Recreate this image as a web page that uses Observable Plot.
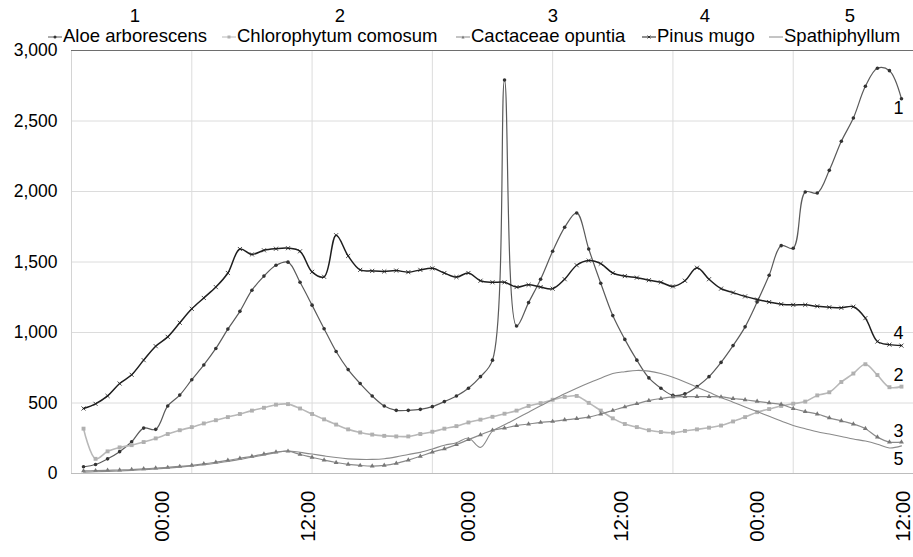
<!DOCTYPE html>
<html><head><meta charset="utf-8">
<script src="https://cdn.jsdelivr.net/npm/d3@7"></script>
<script src="https://cdn.jsdelivr.net/npm/@observablehq/plot@0.6"></script>
<style>
body{margin:0;background:#fff;font-family:"Liberation Sans",Arial,sans-serif;color:#000}
#wrap{position:relative;width:913px;height:557px;overflow:hidden}
#legend{position:relative;height:48px;font-size:18.5px}
.item{position:absolute;top:27px;white-space:nowrap;line-height:18px}
.item svg{vertical-align:middle;margin-right:1px}
.num{position:absolute;top:7px;font-size:18.5px;line-height:18px;transform:translateX(-50%)}
</style></head><body>
<div id="wrap"><div id="legend"></div><div id="chart"></div></div>
<script>
const seriesNames = ["Aloe arborescens","Chlorophytum comosum","Cactaceae opuntia","Pinus mugo","Spathiphyllum"];
const seriesNums = ["1","2","3","4","5"];
const aloe = [48,64,104,155,225,322,313,479,556,665,770,887,1024,1150,1300,1400,1477,1499,1356,1194,1027,865,737,638,550,479,448,448,455,474,510,550,605,687,804,2791,1046,1212,1378,1576,1746,1848,1592,1349,1120,951,804,678,605,554,565,616,687,788,907,1040,1216,1406,1616,1598,1996,1989,2150,2356,2521,2746,2874,2857,2658];
const chloro = [318,104,157,185,201,223,249,280,307,329,355,378,400,422,446,466,488,492,461,422,384,347,313,291,276,267,263,263,280,296,318,336,362,382,402,424,446,479,499,523,543,550,501,446,391,351,329,307,294,289,302,313,325,340,369,400,435,457,479,495,510,554,576,649,709,775,698,612,616];
const cactus = [18,20,22,25,28,33,38,43,50,58,68,80,93,108,122,138,152,158,135,115,95,78,65,57,53,58,72,95,122,152,175,205,240,274,307,322,340,351,362,369,380,389,400,422,447,472,495,517,532,543,545,545,545,543,532,523,512,501,490,461,439,422,395,373,351,318,258,223,223];
const pinus = [461,494,550,638,700,804,903,969,1069,1168,1245,1322,1422,1592,1554,1583,1594,1598,1576,1430,1395,1690,1543,1444,1437,1433,1439,1428,1444,1455,1422,1393,1422,1367,1356,1356,1322,1338,1322,1311,1378,1477,1510,1488,1422,1400,1389,1371,1356,1327,1367,1459,1378,1311,1283,1256,1234,1216,1201,1196,1196,1186,1179,1175,1183,1102,936,914,907];
const spath = [10,12,15,18,22,27,32,38,45,53,62,73,85,100,115,132,148,160,150,138,125,113,104,100,100,105,118,135,150,174,201,218,252,185,300,345,390,435,480,523,565,605,642,676,709,722,731,726,709,682,649,612,576,539,506,472,439,406,373,340,318,296,280,263,245,230,208,181,196];
const values = [aloe, chloro, cactus, pinus, spath];
const yTicks = [0,500,1000,1500,2000,2500,3000];
const tickIdx = [6.6,18.7,32,44.7,56,68.2];
const tickLabels = ["00:00","12:00","00:00","12:00","00:00","12:00"];
const vGrid = [9,19,29,39,49,59];

const styles = [
  {stroke:"#5a5a5a", width:1.2, symbol:"circle", r:1.8, fill:"#333"},
  {stroke:"#b8b8b8", width:1.6, symbol:"square", r:2.2, fill:"#b0b0b0"},
  {stroke:"#8a8a8a", width:1.2, symbol:"triangle", r:1.8, fill:"#777"},
  {stroke:"#1e1e1e", width:1.5, symbol:"times", r:2, fill:null},
  {stroke:"#8a8a8a", width:1.1, symbol:null}
];
const endDy = [10,-11,-11,-12,13];

// legend
const legendLeft = [48,222,456,642,769];
const numLeft = [135,340,553,705,850];
const legend = document.getElementById("legend");
seriesNames.forEach((name,s)=>{
  const st = styles[s];
  const it = document.createElement("div");
  it.className = "item"; it.style.left = legendLeft[s]+"px";
  let mk = "";
  if (st.symbol==="circle") mk = `<circle cx="7" cy="6" r="1.5" fill="${st.fill}"/>`;
  else if (st.symbol==="square") mk = `<rect x="5.5" y="4.5" width="3" height="3" fill="${st.fill}"/>`;
  else if (st.symbol==="triangle") mk = `<path d="M5.5,7.5L7,4.5L8.5,7.5Z" fill="${st.fill}"/>`;
  else if (st.symbol==="times") mk = `<path d="M5.5,4.5L8.5,7.5M8.5,4.5L5.5,7.5" stroke="${st.stroke}" stroke-width="0.8"/>`;
  it.innerHTML = `<svg width="14" height="12"><line x1="0" x2="14" y1="6" y2="6" stroke="${st.stroke}" stroke-width="1"/>${mk}</svg>${name}`;
  legend.appendChild(it);
  const n = document.createElement("div");
  n.className = "num"; n.style.left = numLeft[s]+"px"; n.textContent = seriesNums[s];
  legend.appendChild(n);
});

const marks = [
  Plot.ruleY(yTicks.filter(d=>d>0 && d<3000), {stroke:"#dcdcdc", strokeWidth:1}),
  Plot.ruleX(vGrid, {stroke:"#dcdcdc", strokeWidth:1}),
  Plot.ruleX([-1], {stroke:"#d4d4d4", strokeWidth:1}),
  Plot.ruleY([3000], {stroke:"#6e6e6e", strokeWidth:1}),
  Plot.ruleY([0], {stroke:"#bdbdbd", strokeWidth:1.2}),
  Plot.axisY({ticks:yTicks, tickSize:0, tickPadding:14, tickFormat:d3.format(","), fontSize:17.5, label:null}),
  Plot.axisX({ticks:tickIdx, tickFormat:d=>tickLabels[tickIdx.indexOf(d)], tickRotate:-90, tickSize:0, tickPadding:17, fontSize:20.5, label:null})
];
values.forEach((arr,s)=>{
  const st = styles[s];
  const d = arr.map((v,i)=>({i, v}));
  marks.push(Plot.line(d, {x:"i", y:"v", stroke:st.stroke, strokeWidth:st.width, curve:"catmull-rom"}));
  if (st.symbol) {
    if (st.symbol==="times") marks.push(Plot.dot(d, {x:"i", y:"v", symbol:"times", r:st.r, stroke:st.stroke, strokeWidth:0.8}));
    else marks.push(Plot.dot(d, {x:"i", y:"v", symbol:st.symbol, r:st.r, fill:st.fill, stroke:null}));
  }
  const last = d[d.length-1];
  marks.push(Plot.text([last], {x:"i", y:"v", text:()=>seriesNums[s], dy:endDy[s], dx:-3, fontSize:18, fill:"#000"}));
});

const chart = Plot.plot({
  width:913, height:509,
  marginTop:2, marginLeft:71, marginRight:0, marginBottom:84,
  x:{domain:[-1,69], label:null},
  y:{domain:[0,3000], label:null},
  style:{fontFamily:"'Liberation Sans', Arial, sans-serif", color:"#000", background:"#fff", overflow:"visible"},
  marks
});
document.getElementById("chart").appendChild(chart);
</script>
</body></html>
